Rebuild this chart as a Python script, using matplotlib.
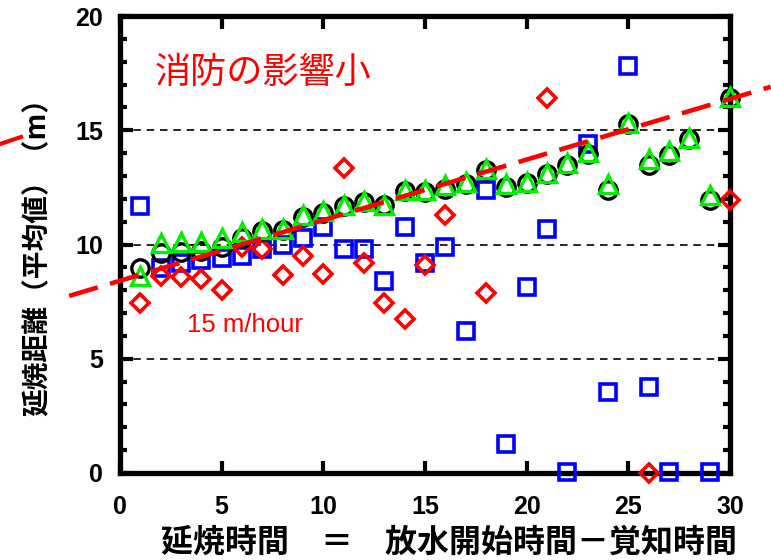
import numpy as np
import matplotlib
matplotlib.use("Agg")
import matplotlib.pyplot as plt
from matplotlib.lines import Line2D

plt.rcParams['font.family'] = ['Noto Sans CJK JP', 'DejaVu Sans']

# 延焼時間 (min)
minutes = np.arange(1, 31)

# black circles
circle_vals = [8.96, 9.62, 9.68, 9.72, 9.9, 10.3, 10.6, 10.65, 11.2, 11.4,
               11.7, 11.85, 11.75, 12.35, 12.3, 12.45, 12.65, 13.25, 12.5, 12.7,
               13.1, 13.5, 13.97, 12.4, 15.26, 13.5, 13.9, 14.6, 11.94, 16.4]
# green triangles
triangle_vals = [8.6, 10.05, 10.1, 10.1, 10.3, 10.55, 10.7, 10.7, 11.3, 11.45,
                 11.75, 11.9, 11.75, 12.4, 12.4, 12.6, 12.75, 13.3, 12.65, 12.75,
                 13.15, 13.57, 14.05, 12.65, 15.3, 13.75, 14.1, 14.65, 12.15, 16.45]
# blue squares (nan = no point)
square_vals = [11.7, 8.95, 9.2, 9.3, 9.4, 9.5, 9.8, 10.0, 10.3, 10.75,
               9.8, 9.8, 8.4, 10.75, 9.2, 9.9, 6.2, 12.4, 1.27, 8.13,
               10.7, 0.05, 14.4, 3.55, 17.8, 3.75, 0.05, np.nan, 0.05, np.nan]
# red diamonds (nan = no point)
diamond_vals = [7.43, 8.6, 8.57, 8.5, 8.0, 9.9, 9.8, 8.66, 9.5, 8.73,
                13.33, 9.2, 7.43, 6.73, 9.1, 11.3, np.nan, 7.87, np.nan, np.nan,
                16.4, np.nan, np.nan, np.nan, np.nan, 0.0, np.nan, np.nan, np.nan, 11.94]

# 15 m/hour trend line (end points)
trend_x = [-2.5, 32.0]
trend_y = [7.75, 16.9]

fig = plt.figure(figsize=(7.71, 5.60), dpi=100)
ax = fig.add_axes([120 / 771, 1 - 473 / 560, 610 / 771, 457 / 560])

ax.plot(minutes, square_vals, ls='none', marker='s', ms=11.5, mfc='none',
        mec='#0000ff', mew=2.6, clip_on=False, zorder=3)
ax.plot(minutes, diamond_vals, ls='none', marker='D', ms=9.0, mfc='none',
        mec='#ff0000', mew=2.6, clip_on=False, zorder=3)
ax.plot(minutes, circle_vals, ls='none', marker='o', ms=12.5, mfc='none',
        mec='black', mew=2.4, clip_on=False, zorder=4)
ax.plot(minutes, triangle_vals, ls='none', marker='^', ms=12.5, mfc='none',
        mec='#00ee00', mew=2.4, clip_on=False, zorder=5)

ax.plot(trend_x, trend_y, color='#ff0000', lw=3.3, ls=(0, (6.5, 2.8)),
        clip_on=False, zorder=6)

ax.set_xlim(0, 30)
ax.set_ylim(0, 20)
ax.set_xticks([0, 5, 10, 15, 20, 25, 30])
ax.set_yticks([0, 5, 10, 15, 20])
ax.set_yticks(np.arange(0, 21, 1), minor=True)

for y in [5, 10, 15]:
    ax.axhline(y, color='black', lw=1.2, ls=(0, (4.5, 3.5)), zorder=1)

for s in ax.spines.values():
    s.set_linewidth(3.8)

ax.tick_params(axis='both', which='major', direction='in', length=9, width=3,
               top=True, right=True)
ax.tick_params(axis='y', which='minor', direction='in', length=5, width=3,
               left=True, right=True)
ax.tick_params(axis='x', which='major', pad=16)
ax.tick_params(axis='y', which='major', pad=12)
for lab in ax.get_xticklabels() + ax.get_yticklabels():
    lab.set_fontfamily(['Liberation Sans', 'DejaVu Sans'])
    lab.set_fontweight('bold')
    lab.set_fontsize(18)

ax.text(1.7, 17.5, '消防の影響小', color='#ff0000', fontsize=26,
        va='center', ha='left')
ax.text(3.3, 6.15, '15 m/hour', color='#ff0000', fontsize=18.5,
        family=['Liberation Sans', 'DejaVu Sans'], va='baseline', ha='left')

fig.text(449 / 771, 1 - 543 / 560, '延焼時間　＝　放水開始時間－覚知時間',
         fontsize=23, fontweight='bold', ha='center', va='center')
fig.text(38 / 771, 1 - 250 / 560, '延焼距離（平均値）（m）', rotation=90,
         fontsize=20, fontweight='bold', ha='center', va='center')

# stray red dash at the top-left edge of the picture
fig.add_artist(Line2D([0, 21 / 771], [1 - 144 / 560, 1 - 137 / 560],
                      color='#ff0000', lw=3))

fig.savefig('out.png', dpi=100)
